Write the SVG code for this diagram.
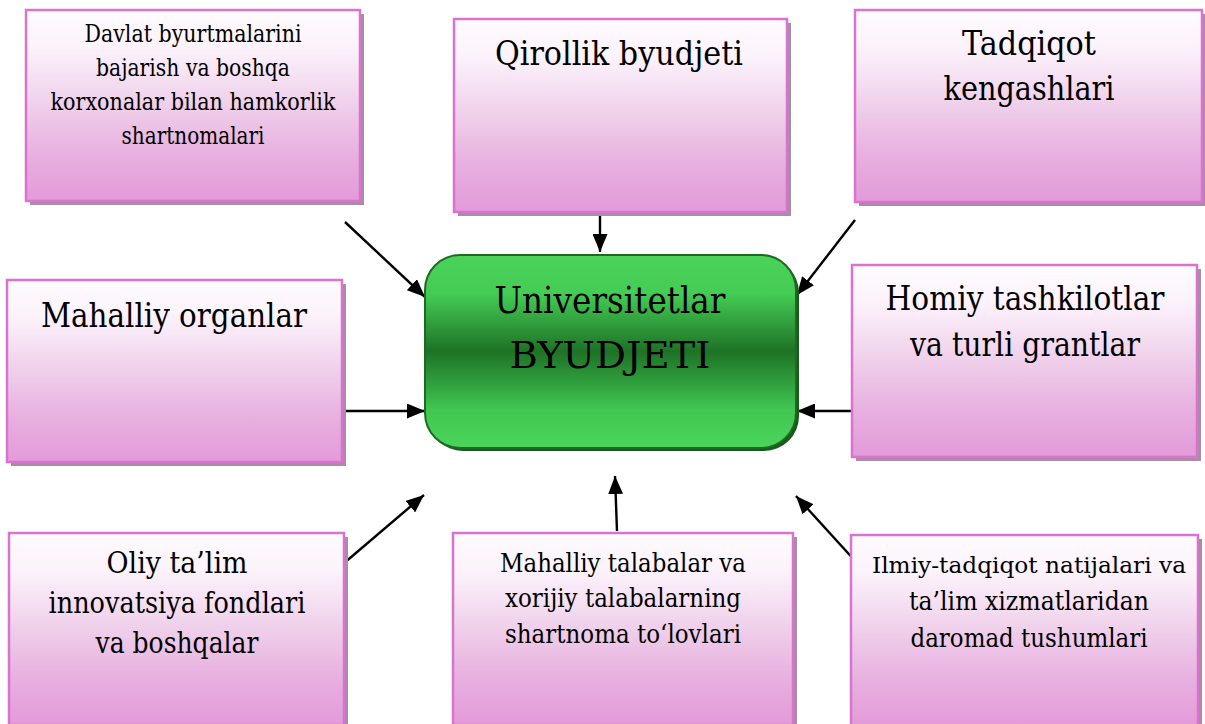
<svg xmlns="http://www.w3.org/2000/svg" width="1205" height="724" viewBox="0 0 1205 724">
<defs>
<linearGradient id="pink" x1="0" y1="0" x2="0" y2="1">
<stop offset="0" stop-color="#fefcfe"/>
<stop offset="0.2" stop-color="#fcf2fb"/>
<stop offset="0.5" stop-color="#efcfea"/>
<stop offset="0.75" stop-color="#e8b0e0"/>
<stop offset="1" stop-color="#e39ad9"/>
</linearGradient>
<linearGradient id="green" x1="0" y1="0" x2="0" y2="1">
<stop offset="0" stop-color="#4ad35b"/>
<stop offset="0.2" stop-color="#44cc55"/>
<stop offset="0.5" stop-color="#1e7226"/>
<stop offset="0.8" stop-color="#40c651"/>
<stop offset="1" stop-color="#4bd55c"/>
</linearGradient>
<marker id="arr" viewBox="0 0 18 15" refX="18" refY="7.5" markerWidth="18" markerHeight="15" markerUnits="userSpaceOnUse" orient="auto">
<path d="M0,0 L18,7.5 L0,15 Z" fill="#000"/>
</marker>
<style>
.shadow{fill:#a78da5}
.box{fill:url(#pink);stroke:#da72cf;stroke-width:2.5}
.t{fill:#000;text-anchor:middle;font-family:'DejaVu Serif','Liberation Serif',serif}
.con{stroke:#000;stroke-width:2.4;fill:none;marker-end:url(#arr)}
</style>
</defs>

<g id="connectors">
<line class="con" x1="345" y1="222" x2="425" y2="297"/>
<line class="con" x1="600" y1="206" x2="600" y2="252"/>
<line class="con" x1="855" y1="220" x2="797" y2="295"/>
<line class="con" x1="343" y1="411" x2="425" y2="411"/>
<line class="con" x1="852" y1="411" x2="797" y2="411"/>
<line class="con" x1="343" y1="564" x2="424" y2="495"/>
<line class="con" x1="617" y1="531" x2="615" y2="476"/>
<line class="con" x1="857" y1="563" x2="796" y2="496"/>
</g>

<g id="center">
<rect x="428" y="258" width="371" height="193" rx="35" fill="#1a5a1d"/>
<rect x="425" y="255" width="371" height="193" rx="35" fill="url(#green)" stroke="#1f6a22" stroke-width="2"/>
<text class="t" x="610" y="313" font-size="38" textLength="231" lengthAdjust="spacingAndGlyphs">Universitetlar</text>
<text class="t" x="610" y="368" font-size="38" textLength="201" lengthAdjust="spacingAndGlyphs">BYUDJETI</text>
</g>

<g id="n1">
<rect class="shadow" x="30" y="14" width="334" height="191"/>
<rect class="box" x="26" y="10" width="334" height="191"/>
<text class="t" x="193" y="42" font-size="23.5" textLength="217" lengthAdjust="spacingAndGlyphs">Davlat byurtmalarini</text>
<text class="t" x="193" y="76" font-size="23.5" textLength="194" lengthAdjust="spacingAndGlyphs">bajarish va boshqa</text>
<text class="t" x="193" y="110" font-size="23.5" textLength="285" lengthAdjust="spacingAndGlyphs">korxonalar bilan hamkorlik</text>
<text class="t" x="193" y="144" font-size="23.5" textLength="143" lengthAdjust="spacingAndGlyphs">shartnomalari</text>
</g>

<g id="n2">
<rect class="shadow" x="458" y="23" width="333" height="193"/>
<rect class="box" x="454" y="19" width="333" height="193"/>
<text class="t" x="619" y="65" font-size="33.5" textLength="248" lengthAdjust="spacingAndGlyphs">Qirollik byudjeti</text>
</g>

<g id="n3">
<rect class="shadow" x="859" y="14" width="347" height="192"/>
<rect class="box" x="855" y="10" width="347" height="192"/>
<text class="t" x="1029" y="55" font-size="33.5" textLength="134" lengthAdjust="spacingAndGlyphs">Tadqiqot</text>
<text class="t" x="1029" y="100" font-size="33.5" textLength="171" lengthAdjust="spacingAndGlyphs">kengashlari</text>
</g>

<g id="n4">
<rect class="shadow" x="11" y="284" width="335" height="182"/>
<rect class="box" x="7" y="280" width="335" height="182"/>
<text class="t" x="174" y="327" font-size="33.5" textLength="266" lengthAdjust="spacingAndGlyphs">Mahalliy organlar</text>
</g>

<g id="n5">
<rect class="shadow" x="856" y="269" width="345" height="192"/>
<rect class="box" x="852" y="265" width="345" height="192"/>
<text class="t" x="1025" y="310" font-size="33.5" textLength="279" lengthAdjust="spacingAndGlyphs">Homiy tashkilotlar</text>
<text class="t" x="1025" y="356" font-size="33.5" textLength="230" lengthAdjust="spacingAndGlyphs">va turli grantlar</text>
</g>

<g id="n6">
<rect class="shadow" x="13" y="537" width="335" height="192"/>
<rect class="box" x="9" y="533" width="335" height="192"/>
<text class="t" x="177" y="573" font-size="29" textLength="141" lengthAdjust="spacingAndGlyphs">Oliy ta’lim</text>
<text class="t" x="177" y="613" font-size="29" textLength="257" lengthAdjust="spacingAndGlyphs">innovatsiya fondlari</text>
<text class="t" x="177" y="653" font-size="29" textLength="163" lengthAdjust="spacingAndGlyphs">va boshqalar</text>
</g>

<g id="n7">
<rect class="shadow" x="457" y="537" width="340" height="192"/>
<rect class="box" x="453" y="533" width="340" height="192"/>
<text class="t" x="623" y="572" font-size="26" textLength="246" lengthAdjust="spacingAndGlyphs">Mahalliy talabalar va</text>
<text class="t" x="623" y="607" font-size="26" textLength="236" lengthAdjust="spacingAndGlyphs">xorijiy talabalarning</text>
<text class="t" x="623" y="643" font-size="26" textLength="236" lengthAdjust="spacingAndGlyphs">shartnoma to‘lovlari</text>
</g>

<g id="n8">
<rect class="shadow" x="855" y="539" width="347" height="192"/>
<rect class="box" x="851" y="535" width="347" height="192"/>
<text class="t" x="1029" y="573" font-size="23" textLength="314" lengthAdjust="spacingAndGlyphs">Ilmiy-tadqiqot natijalari va</text>
<text class="t" x="1029" y="610" font-size="26" textLength="240" lengthAdjust="spacingAndGlyphs">ta’lim xizmatlaridan</text>
<text class="t" x="1029" y="647" font-size="26" textLength="237" lengthAdjust="spacingAndGlyphs">daromad tushumlari</text>
</g>
</svg>
